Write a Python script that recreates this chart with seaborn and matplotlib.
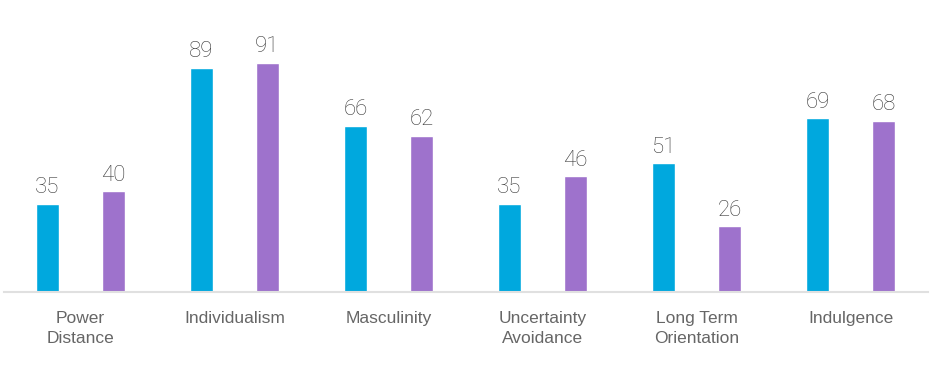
import pandas as pd
import matplotlib.pyplot as plt
import seaborn as sns

# data
categories = ["Power\nDistance", "Individualism", "Masculinity",
              "Uncertainty\nAvoidance", "Long Term\nOrientation", "Indulgence"]
series_a = [35, 89, 66, 35, 51, 69]
series_b = [40, 91, 62, 46, 26, 68]
series_names = ["A", "B"]
colors = ["#00A8DE", "#9E72CC"]

df = pd.DataFrame({
    "category": categories * 2,
    "value": series_a + series_b,
    "series": [series_names[0]] * len(categories) + [series_names[1]] * len(categories),
})

sns.set_style("white")

fig = plt.figure(figsize=(9.3, 3.75), dpi=100)
ax = fig.add_axes([3.5 / 930, 83 / 375, 924 / 930, 252 / 375])

sns.barplot(data=df, x="category", y="value", hue="series", order=categories,
            hue_order=series_names, palette=colors, width=0.857, gap=0.65,
            legend=False, ax=ax, saturation=1)

# value labels above bars
for cont in ax.containers:
    ax.bar_label(cont, padding=4, fontsize=16, color="#3A3A3A",
                 family=["Roboto", "DejaVu Sans"], fontweight="light")

ax.set_xlim(-0.5, len(categories) - 0.5)
ax.set_ylim(0, 100)
ax.set_xlabel("")
ax.set_ylabel("")
ax.set_yticks([])
for s in ["top", "right", "left"]:
    ax.spines[s].set_visible(False)
ax.spines["bottom"].set_color("#E0E0E0")
ax.spines["bottom"].set_linewidth(1.5)
ax.tick_params(axis="x", length=0, pad=14, labelsize=12.5, labelcolor="#666666")
for lbl in ax.get_xticklabels():
    lbl.set_family(["Liberation Sans", "DejaVu Sans"])
    lbl.set_linespacing(1.35)

fig.savefig("out.png", dpi=100)
